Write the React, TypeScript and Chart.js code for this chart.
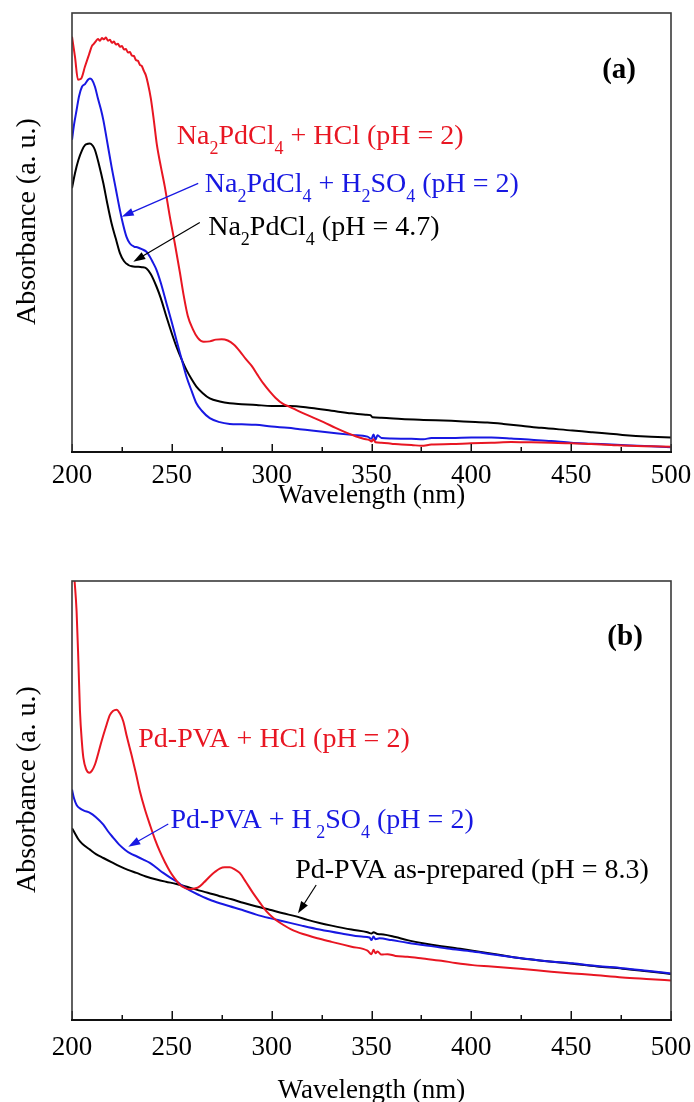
import { useEffect, useRef } from 'react';
import { Chart, registerables } from 'chart.js';

Chart.register(...registerables);

const SERIF = '"Liberation Serif", "Times New Roman", Times, serif';
const RED = 'rgb(232,22,34)';
const BLUE = 'rgb(24,24,226)';
const BLACK = 'rgb(0,0,0)';

const X_MIN = 200;
const X_MAX = 500;
const X_STEP = 25;
const X_MAJOR = 50;
const Y_MIN = 0;
const Y_MAX = 1;

const X_TITLE = 'Wavelength (nm)';
const Y_TITLE = 'Absorbance (a. u.)';

// ---------- Panel (a) ----------
const aRedWl = [200, 201.5, 203, 204.5, 206.5, 208.5, 210, 211, 212, 213, 214, 215, 216, 217, 218, 219, 220, 221, 222, 223, 224, 225, 226, 227, 228, 229, 230, 231, 232, 233, 234, 235, 236, 237, 238, 239.5, 241, 242.5, 244.5, 246.5, 249, 251.5, 254, 256, 258, 260.5, 263, 266, 269, 272, 275, 278, 281, 284, 287, 290, 293, 296, 299, 302, 305.5, 309, 314, 320, 326, 332, 338, 342, 346, 349, 350, 351, 352, 355, 360, 365, 370, 375, 380, 390, 400, 410, 420, 430, 440, 450, 460, 470, 480, 490, 500];
const aRedAbs = [0.946, 0.9, 0.848, 0.85, 0.878, 0.905, 0.925, 0.93, 0.936, 0.941, 0.937, 0.943, 0.94, 0.944, 0.937, 0.939, 0.932, 0.935, 0.928, 0.93, 0.923, 0.925, 0.917, 0.918, 0.91, 0.911, 0.903, 0.902, 0.893, 0.891, 0.882, 0.879, 0.868, 0.858, 0.84, 0.805, 0.755, 0.7, 0.65, 0.604, 0.536, 0.475, 0.41, 0.355, 0.31, 0.28, 0.26, 0.251, 0.252, 0.256, 0.257, 0.254, 0.245, 0.23, 0.212, 0.196, 0.175, 0.155, 0.138, 0.123, 0.11, 0.103, 0.092, 0.08, 0.068, 0.055, 0.043, 0.036, 0.03, 0.027, 0.024, 0.029, 0.022, 0.021, 0.019, 0.017, 0.016, 0.014, 0.017, 0.018, 0.02, 0.021, 0.023, 0.022, 0.021, 0.02, 0.018, 0.016, 0.014, 0.013, 0.012];

const aBlueWl = [200, 201, 202.3, 203.5, 205, 206.5, 208, 209, 210, 211.5, 213, 214.5, 215.7, 217.5, 219.8, 222, 224, 225.5, 227.3, 229, 231, 233, 235, 237.3, 239, 240.5, 242.3, 244.5, 247.3, 250, 252.3, 255, 257.3, 260, 262.3, 265, 269, 274, 279, 285, 292, 300, 308, 314, 320, 330, 340, 348, 350, 351, 352, 353, 355, 360, 370, 376, 380, 390, 400, 410, 420, 430, 440, 450, 460, 470, 480, 490, 500];
const aBlueAbs = [0.711, 0.745, 0.779, 0.81, 0.832, 0.838, 0.848, 0.851, 0.848, 0.832, 0.805, 0.78, 0.756, 0.71, 0.65, 0.598, 0.551, 0.52, 0.49, 0.475, 0.468, 0.466, 0.462, 0.456, 0.445, 0.432, 0.415, 0.385, 0.339, 0.295, 0.255, 0.21, 0.172, 0.138, 0.111, 0.094, 0.077, 0.068, 0.064, 0.063, 0.062, 0.058, 0.055, 0.052, 0.049, 0.044, 0.039, 0.035, 0.03, 0.04, 0.028, 0.038, 0.032, 0.031, 0.03, 0.029, 0.032, 0.032, 0.033, 0.033, 0.031, 0.028, 0.025, 0.021, 0.019, 0.017, 0.015, 0.013, 0.011];

const aBlackWl = [200, 201.5, 203.2, 205, 206.5, 208, 209, 210.5, 211.5, 213.5, 215.7, 217.5, 219.8, 222, 224, 226, 228.2, 230, 232.3, 235, 237.3, 239.5, 242.3, 244.5, 247.3, 250, 252.3, 255, 257.3, 260, 262.3, 265.5, 269, 274, 279, 285, 292.3, 300, 309, 320, 330, 340, 347, 349.5, 350.5, 355, 365, 376, 390, 399, 408, 416, 425, 435, 450.7, 460, 475.7, 490, 500];
const aBlackAbs = [0.601, 0.635, 0.665, 0.687, 0.699, 0.702, 0.703, 0.697, 0.688, 0.655, 0.612, 0.57, 0.521, 0.485, 0.453, 0.435, 0.426, 0.423, 0.422, 0.421, 0.418, 0.405, 0.377, 0.35, 0.308, 0.27, 0.24, 0.21, 0.187, 0.165, 0.149, 0.134, 0.122, 0.115, 0.111, 0.109, 0.107, 0.105, 0.105, 0.1, 0.094, 0.088, 0.085, 0.084, 0.079, 0.078, 0.075, 0.073, 0.071, 0.069, 0.067, 0.064, 0.06, 0.055, 0.049, 0.045, 0.039, 0.035, 0.033];

// ---------- Panel (b) ----------
const bRedWl = [200, 201.3, 202.3, 203.2, 204, 205, 205.7, 207, 208.7, 210, 211.5, 213, 214.8, 217, 219, 220.5, 222.3, 224, 225.7, 227.5, 229.8, 232, 234, 236.5, 239, 241.5, 244, 246.5, 249, 251.5, 254, 256.5, 259, 261, 263.2, 266, 269, 271.5, 274, 276.5, 279, 281.5, 284, 287, 290.7, 294, 297.3, 301, 305.7, 310, 315.7, 324, 330, 340, 348, 350, 351, 352, 353, 355, 358, 362, 368, 375.7, 385, 392, 400.7, 410, 425.7, 440, 450.7, 460, 475.7, 490, 500];
const bRedAbs = [1.08, 1.0, 0.931, 0.817, 0.703, 0.63, 0.597, 0.572, 0.563, 0.568, 0.582, 0.605, 0.635, 0.668, 0.695, 0.704, 0.707, 0.698, 0.68, 0.645, 0.604, 0.562, 0.521, 0.48, 0.445, 0.412, 0.384, 0.36, 0.339, 0.322, 0.308, 0.301, 0.298, 0.299, 0.302, 0.313, 0.327, 0.337, 0.345, 0.348, 0.348, 0.343, 0.335, 0.315, 0.289, 0.268, 0.248, 0.232, 0.217, 0.206, 0.196, 0.185, 0.178, 0.167, 0.158, 0.15, 0.16, 0.152, 0.156, 0.149, 0.15, 0.146, 0.144, 0.14, 0.135, 0.13, 0.125, 0.122, 0.116, 0.11, 0.106, 0.103, 0.097, 0.093, 0.09];

const bBlueWl = [200, 201, 202.3, 204, 206, 209, 212, 215.7, 218, 220.7, 223.5, 226.5, 229, 232.3, 235.5, 239, 242, 245.7, 249, 252.3, 255.5, 259, 264, 269, 274, 279, 285, 292.3, 299, 305.7, 315, 324, 335, 345, 349, 350, 351, 352, 354, 360, 368, 375.7, 388, 400.7, 413, 425.7, 438, 450.7, 463, 475.7, 488, 500];
const bBlueAbs = [0.525, 0.505, 0.49, 0.482, 0.477, 0.472, 0.462, 0.445, 0.43, 0.415, 0.4, 0.388, 0.38, 0.373, 0.366, 0.358, 0.348, 0.335, 0.325, 0.316, 0.305, 0.295, 0.284, 0.274, 0.266, 0.259, 0.251, 0.24, 0.232, 0.225, 0.215, 0.206, 0.197, 0.19, 0.188, 0.182, 0.19, 0.184, 0.186, 0.182, 0.176, 0.171, 0.163, 0.156, 0.148, 0.14, 0.134, 0.129, 0.123, 0.118, 0.112, 0.106];

const bBlackWl = [200, 201.5, 203, 204, 206, 209, 212, 215.7, 220, 224, 228, 232.3, 237, 242.3, 247, 252.3, 257, 262.3, 268, 274, 280, 285.7, 292, 299, 305.7, 312.3, 318, 324, 330, 340, 348, 350, 351, 353, 356, 362, 368, 375.7, 385, 393, 400.7, 413, 425.7, 438, 450.7, 463, 475.7, 488, 500];
const bBlackAbs = [0.437, 0.425, 0.413, 0.407, 0.398, 0.388, 0.378, 0.369, 0.359, 0.35, 0.342, 0.335, 0.327, 0.32, 0.315, 0.31, 0.304, 0.297, 0.29, 0.282, 0.275, 0.267, 0.259, 0.251, 0.243, 0.236, 0.228, 0.221, 0.215, 0.206, 0.2, 0.197, 0.2, 0.196, 0.195, 0.189, 0.182, 0.175, 0.168, 0.163, 0.158, 0.149, 0.14, 0.134, 0.128, 0.122, 0.117, 0.111, 0.105];

// ---------- Annotations ----------
type Seg = { t: string; sub?: boolean };
interface Note { segs: Seg[]; wl: number; ab: number; color: string; size: number; bold?: boolean; center?: boolean }
interface Arrow { fromWl: number; fromAb: number; toWl: number; toAb: number; color: string }

const aNotes: Note[] = [
  { segs: [{ t: '(a)' }], wl: 474, ab: 0.852, color: BLACK, size: 29, bold: true, center: true },
  { segs: [{ t: 'Na' }, { t: '2', sub: true }, { t: 'PdCl' }, { t: '4', sub: true }, { t: ' + HCl (pH = 2)' }], wl: 252.5, ab: 0.7016, color: RED, size: 28 },
  { segs: [{ t: 'Na' }, { t: '2', sub: true }, { t: 'PdCl' }, { t: '4', sub: true }, { t: ' + H' }, { t: '2', sub: true }, { t: 'SO' }, { t: '4', sub: true }, { t: ' (pH = 2)' }], wl: 266.5, ab: 0.5923, color: BLUE, size: 28 },
  { segs: [{ t: 'Na' }, { t: '2', sub: true }, { t: 'PdCl' }, { t: '4', sub: true }, { t: ' (pH = 4.7)' }], wl: 268.2, ab: 0.4943, color: BLACK, size: 28 },
];
const aArrows: Arrow[] = [
  { fromWl: 263.2, fromAb: 0.612, toWl: 224.9, toAb: 0.536, color: BLUE },
  { fromWl: 264, fromAb: 0.5228, toWl: 230.7, toAb: 0.4335, color: BLACK },
];

const bNotes: Note[] = [
  { segs: [{ t: '(b)' }], wl: 477, ab: 0.854, color: BLACK, size: 29, bold: true, center: true },
  { segs: [{ t: 'Pd-PVA + HCl (pH = 2)' }], wl: 233.2, ab: 0.622, color: RED, size: 28 },
  { segs: [{ t: 'Pd-PVA + H' }, { t: ' 2', sub: true }, { t: 'SO' }, { t: '4', sub: true }, { t: ' (pH = 2)' }], wl: 249.3, ab: 0.437, color: BLUE, size: 28 },
  { segs: [{ t: 'Pd-PVA as-prepared (pH = 8.3)' }], wl: 311.8, ab: 0.3235, color: BLACK, size: 28 },
];
const bArrows: Arrow[] = [
  { fromWl: 248.2, fromAb: 0.4465, toWl: 228.2, toAb: 0.3948, color: BLUE },
  { fromWl: 322.3, fromAb: 0.3075, toWl: 313.2, toAb: 0.243, color: BLACK },
];

function toPoints(wl: number[], ab: number[]) {
  return wl.map((w, i) => ({ x: w, y: ab[i] }));
}

function drawRich(ctx: CanvasRenderingContext2D, n: Note, x: number, y: number) {
  const main = `${n.bold ? 'bold ' : ''}${n.size}px ${SERIF}`;
  const sub = `${Math.round(n.size * 0.66)}px ${SERIF}`;
  let w = 0;
  for (const s of n.segs) {
    ctx.font = s.sub ? sub : main;
    w += ctx.measureText(s.t).width;
  }
  let cx = n.center ? x - w / 2 : x;
  ctx.fillStyle = n.color;
  ctx.textAlign = 'left';
  ctx.textBaseline = 'alphabetic';
  for (const s of n.segs) {
    ctx.font = s.sub ? sub : main;
    ctx.fillText(s.t, cx, s.sub ? y + n.size * 0.35 : y);
    cx += ctx.measureText(s.t).width;
  }
}

function makeOverlay(notes: Note[], arrows: Arrow[], majorLen: number, minorLen: number) {
  return {
    id: 'overlay',
    afterDraw(chart: any) {
      const { ctx, chartArea: a, scales } = chart;
      const xs = scales.x;
      const ys = scales.y;
      ctx.save();
      // inward ticks
      ctx.strokeStyle = '#111';
      ctx.lineWidth = 1.5;
      for (const t of xs.ticks) {
        const px = Math.round(xs.getPixelForValue(t.value)) + 0.25;
        const len = t.value % X_MAJOR === 0 ? majorLen : minorLen;
        ctx.beginPath();
        ctx.moveTo(px, a.bottom);
        ctx.lineTo(px, a.bottom - len);
        ctx.stroke();
      }
      // frame
      ctx.strokeStyle = '#3a3a3a';
      ctx.lineWidth = 1.6;
      ctx.strokeRect(a.left, a.top, a.right - a.left, a.bottom - a.top);
      ctx.strokeStyle = '#111';
      ctx.lineWidth = 2;
      ctx.beginPath();
      ctx.moveTo(a.left - 1, a.bottom);
      ctx.lineTo(a.right + 1, a.bottom);
      ctx.stroke();
      // y title
      ctx.save();
      ctx.translate(28, (a.top + a.bottom) / 2 - 11);
      ctx.rotate(-Math.PI / 2);
      ctx.font = `28px ${SERIF}`;
      ctx.fillStyle = '#000';
      ctx.textAlign = 'center';
      ctx.textBaseline = 'middle';
      ctx.fillText(Y_TITLE, 0, 0);
      ctx.restore();
      // arrows
      for (const ar of arrows) {
        const x1 = xs.getPixelForValue(ar.fromWl);
        const y1 = ys.getPixelForValue(ar.fromAb);
        const x2 = xs.getPixelForValue(ar.toWl);
        const y2 = ys.getPixelForValue(ar.toAb);
        const ang = Math.atan2(y2 - y1, x2 - x1);
        const c = Math.cos(ang);
        const s = Math.sin(ang);
        const L = 12;
        const W = 4;
        ctx.strokeStyle = ar.color;
        ctx.fillStyle = ar.color;
        ctx.lineWidth = 1.2;
        ctx.beginPath();
        ctx.moveTo(x1, y1);
        ctx.lineTo(x2 - L * 0.8 * c, y2 - L * 0.8 * s);
        ctx.stroke();
        ctx.beginPath();
        ctx.moveTo(x2, y2);
        ctx.lineTo(x2 - L * c + W * s, y2 - L * s - W * c);
        ctx.lineTo(x2 - L * c - W * s, y2 - L * s + W * c);
        ctx.closePath();
        ctx.fill();
      }
      // notes
      for (const n of notes) {
        drawRich(ctx, n, xs.getPixelForValue(n.wl), ys.getPixelForValue(n.ab));
      }
      ctx.restore();
    },
  };
}

interface Geom { padTop: number; axisHeight: number; labelPad: number; titlePad: number; major: number; minor: number }

function buildConfig(series: { wl: number[]; ab: number[]; color: string }[], notes: Note[], arrows: Arrow[], g: Geom): any {
  return {
    type: 'line',
    data: {
      datasets: series.map((s) => ({
        data: toPoints(s.wl, s.ab),
        borderColor: s.color,
        backgroundColor: s.color,
        borderWidth: 2,
        pointRadius: 0,
        fill: false,
        cubicInterpolationMode: 'monotone',
      })),
    },
    options: {
      responsive: false,
      animation: false,
      events: [],
      layout: { padding: { left: 72, right: 23, top: g.padTop, bottom: 0 } },
      plugins: { legend: { display: false }, tooltip: { enabled: false }, title: { display: false } },
      scales: {
        x: {
          type: 'linear',
          min: X_MIN,
          max: X_MAX,
          grid: { display: false, drawTicks: false },
          border: { display: false },
          ticks: {
            stepSize: X_STEP,
            autoSkip: false,
            maxRotation: 0,
            minRotation: 0,
            padding: g.labelPad,
            color: '#000',
            font: { family: SERIF, size: 27 },
            callback: (v: number) => (v % X_MAJOR === 0 ? String(v) : ''),
          },
          title: {
            display: true,
            text: X_TITLE,
            color: '#000',
            font: { family: SERIF, size: 27 },
            padding: { top: 0, bottom: g.titlePad },
          },
          afterFit: (s: any) => {
            s.height = g.axisHeight;
            s.paddingLeft = 0;
            s.paddingRight = 0;
          },
        },
        y: {
          type: 'linear',
          display: false,
          min: Y_MIN,
          max: Y_MAX,
        },
      },
    },
    plugins: [makeOverlay(notes, arrows, g.major, g.minor)],
  };
}

function PanelCanvas({ make, top, height }: { make: () => any; top: number; height: number }) {
  const ref = useRef<HTMLCanvasElement>(null);
  useEffect(() => {
    const chart = new Chart(ref.current as HTMLCanvasElement, make());
    return () => chart.destroy();
  }, []);
  return (
    <canvas
      ref={ref}
      width={694}
      height={height}
      style={{ position: 'absolute', left: 0, top, width: 694, height, display: 'block' }}
    />
  );
}

export default function App() {
  const makeA = () =>
    buildConfig(
      [
        { wl: aRedWl, ab: aRedAbs, color: RED },
        { wl: aBlueWl, ab: aBlueAbs, color: BLUE },
        { wl: aBlackWl, ab: aBlackAbs, color: BLACK },
      ],
      aNotes,
      aArrows,
      { padTop: 13, axisHeight: 88, labelPad: 8, titlePad: 28, major: 8, minor: 5 }
    );
  const makeB = () =>
    buildConfig(
      [
        { wl: bRedWl, ab: bRedAbs, color: RED },
        { wl: bBlueWl, ab: bBlueAbs, color: BLUE },
        { wl: bBlackWl, ab: bBlackAbs, color: BLACK },
      ],
      bNotes,
      bArrows,
      { padTop: 41, axisHeight: 100, labelPad: 12, titlePad: 13, major: 9, minor: 5 }
    );
  return (
    <div style={{ position: 'absolute', left: 0, top: 0, width: 694, height: 1102, overflow: 'hidden', background: '#fff' }}>
      <PanelCanvas make={makeA} top={0} height={540} />
      <PanelCanvas make={makeB} top={540} height={580} />
    </div>
  );
}
